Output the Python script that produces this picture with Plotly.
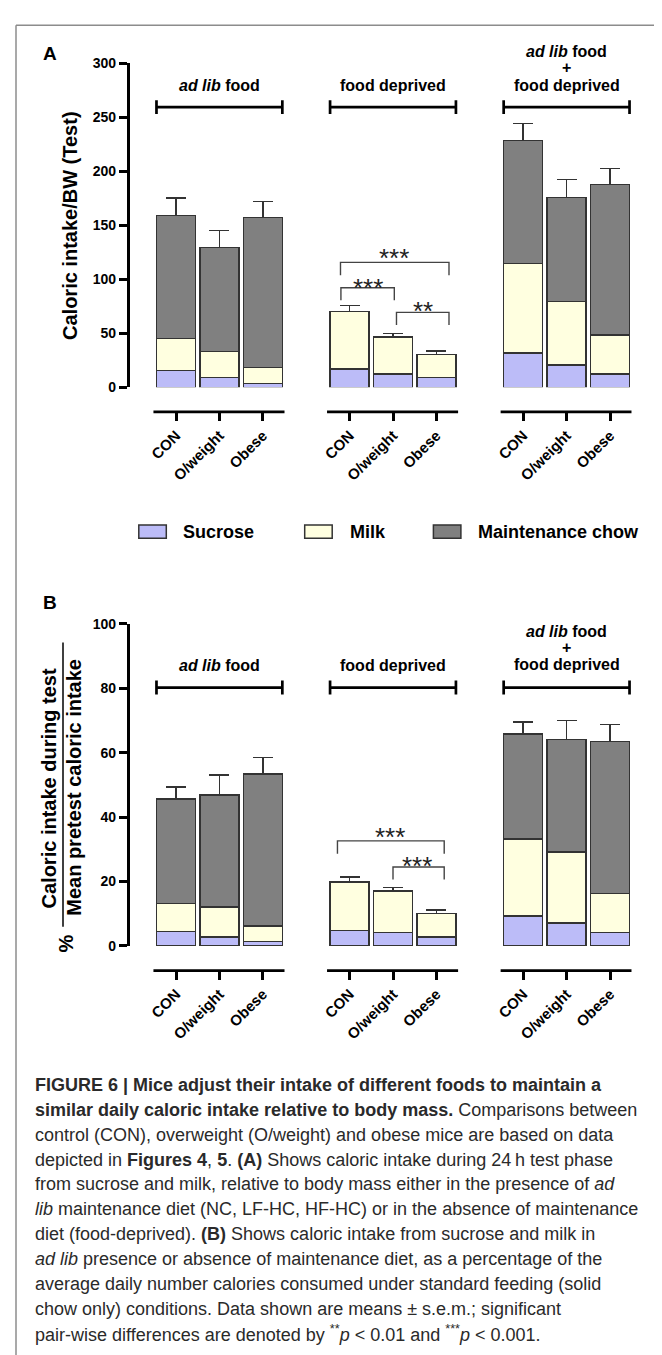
import plotly.graph_objects as go

# ---------------- data ----------------
groups = ["ad lib food", "food deprived", "ad lib food + food deprived"]
categories = ["CON", "O/weight", "Obese"]
series_names = ["Sucrose", "Milk", "Maintenance chow"]

# Panel A: caloric intake / BW (segment heights), order: group x category
sucrose_A = [15.3, 8.9, 3.7, 17.1, 12.2, 8.9, 31.7, 20.5, 12.3]
sucrose_A_err = [1.5, 1.5, 0.9, 1.2, 1.5, 0.9, 2.5, 3.0, 2.1]
milk_A = [29.9, 24.4, 14.6, 52.8, 34.5, 21.3, 83.0, 59.1, 36.2]
milk_A_err = [3.3, 1.8, 1.6, 6.0, 3.1, 3.4, 8.3, 4.0, 4.0]
chow_A = [114.0, 96.1, 138.7, None, None, None, 113.7, 96.1, 139.4]
chow_A_err = [15.9, 15.8, 15.0, None, None, None, 15.9, 16.4, 14.7]

# Panel B: % of mean pretest caloric intake
sucrose_B = [4.4, 2.8, 1.4, 4.8, 4.2, 2.8, 9.2, 7.1, 4.2]
sucrose_B_err = [0.6, 0.6, 0.2, 0.4, 0.6, 0.3, 0.9, 1.0, 0.6]
milk_B = [8.7, 9.2, 4.7, 15.1, 12.8, 7.3, 24.0, 22.0, 12.1]
milk_B_err = [1.0, 0.8, 0.6, 1.5, 1.1, 1.0, 1.9, 2.0, 1.6]
chow_B = [32.5, 34.9, 47.2, None, None, None, 32.6, 34.9, 47.2]
chow_B_err = [3.7, 6.2, 5.1, None, None, None, 3.7, 6.0, 5.2]

yticks_A = [0, 50, 100, 150, 200, 250, 300]
yticks_B = [0, 20, 40, 60, 80, 100]

# significance brackets: (x_left, x_right, y_bar, y_leg_bottom_left, y_leg_bottom_right, label, x_label, y_label)
sig_A = [
    (3.79, 6.29, 115.6, 103.7, 103.7, "***", 5.03, 125.7),
    (3.80, 5.03, 92.1, 80.5, 80.5, "***", 4.42, 98.8),
    (5.08, 6.29, 69.3, 57.6, 57.6, "**", 5.68, 77.5),
]
sig_B = [
    (3.72, 6.18, 32.6, 28.6, 28.6, "***", 4.93, 36.0),
    (5.00, 6.18, 24.5, 20.6, 20.6, "***", 5.55, 27.0),
]

caption_lines = [
    "<b>FIGURE 6 | Mice adjust their intake of different foods to maintain a</b>",
    "<b>similar daily caloric intake relative to body mass.</b> Comparisons between",
    "control (CON), overweight (O/weight) and obese mice are based on data",
    "depicted in <b>Figures 4</b>, <b>5</b>. <b>(A)</b> Shows caloric intake during 24\u2009h test phase",
    "from sucrose and milk, relative to body mass either in the presence of <i>ad</i>",
    "<i>lib</i> maintenance diet (NC, LF-HC, HF-HC) or in the absence of maintenance",
    "diet (food-deprived). <b>(B)</b> Shows caloric intake from sucrose and milk in",
    "<i>ad lib</i> presence or absence of maintenance diet, as a percentage of the",
    "average daily number calories consumed under standard feeding (solid",
    "chow only) conditions. Data shown are means \u00b1 s.e.m.; significant",
    "pair-wise differences are denoted by <sup>**</sup><i>p</i> &lt; 0.01 and <sup>***</sup><i>p</i> &lt; 0.001.",
]

# ---------------- layout helpers ----------------
W, H = 662, 1355
FONT = "Liberation Sans, Arial, sans-serif"
colors = ["#bcbcf8", "#ffffe0", "#808080"]
EDGE = "#333333"


def pxx(x):
    return x / W


def pyy(y):
    return 1 - y / H


xpos = [g * 4 + c for g in range(len(groups)) for c in range(len(categories))]
ticktext = [categories[c] for g in range(len(groups)) for c in range(len(categories))]

fig = go.Figure()

panels = [
    dict(xa="x", ya="y", data=[(sucrose_A, sucrose_A_err), (milk_A, milk_A_err), (chow_A, chow_A_err)]),
    dict(xa="x2", ya="y2", data=[(sucrose_B, sucrose_B_err), (milk_B, milk_B_err), (chow_B, chow_B_err)]),
]

for p in panels:
    for i, (vals, errs) in enumerate(p["data"]):
        fig.add_trace(go.Bar(
            x=xpos, y=vals, width=0.9, name=series_names[i],
            marker=dict(color=colors[i], line=dict(color=EDGE, width=1.5)),
            error_y=dict(type="data", symmetric=False, array=errs,
                         arrayminus=[0] * len(errs), color=EDGE, thickness=1.5, width=10),
            xaxis=p["xa"], yaxis=p["ya"], showlegend=False,
        ))

# plot geometry (pixels)
x_left_px, x_right_px = 121.7, 623.7
xr = [-1.067, 10.5]
A_top, A_bot = 47.7, 375.7
B_top, B_bot = 615.0, 941.0
axis_off = 25.0

axis_common = dict(showgrid=False, zeroline=False)
yax_common = dict(showline=True, linewidth=2.5, linecolor="black", ticks="outside",
                  ticklen=8, tickwidth=2.5, tickcolor="black",
                  tickfont=dict(family=FONT, size=14, color="black", weight="bold"), **axis_common)
xax_common = dict(range=xr, domain=[pxx(x_left_px), pxx(x_right_px)], anchor="free",
                  showline=False, ticks="outside", ticklen=8, tickwidth=2.5, tickcolor="black",
                  tickvals=xpos, ticktext=ticktext, tickangle=-45,
                  tickfont=dict(family=FONT, size=15, color="black", weight="bold"), **axis_common)

fig.update_layout(
    width=W, height=H, margin=dict(l=0, r=0, t=0, b=0),
    paper_bgcolor="white", plot_bgcolor="white", barmode="stack", showlegend=False,
    xaxis=dict(position=pyy(A_bot + axis_off), **xax_common),
    xaxis2=dict(position=pyy(B_bot + axis_off), **xax_common),
    yaxis=dict(domain=[pyy(A_bot), pyy(A_top)], range=[0, 300], tickvals=yticks_A,
               anchor="x", **yax_common),
    yaxis2=dict(domain=[pyy(B_bot), pyy(B_top)], range=[0, 100], tickvals=yticks_B,
                anchor="x2", **yax_common),
)

shapes = []
annotations = []


def ann(text, x, y, xref="paper", yref="paper", size=14, bold=False, italic=False,
        xanchor="center", yanchor="middle", angle=0, color="black", yshift=0):
    annotations.append(dict(
        text=text, x=x, y=y, xref=xref, yref=yref, showarrow=False,
        xanchor=xanchor, yanchor=yanchor, textangle=angle, yshift=yshift,
        font=dict(family=FONT, size=size, color=color,
                  weight="bold" if bold else "normal", style="italic" if italic else "normal"),
    ))


# figure border
shapes.append(dict(type="line", xref="paper", yref="paper", x0=pxx(8), x1=1.0,
                   y0=pyy(9.3), y1=pyy(9.3), line=dict(color="#8c8c8c", width=1.5)))
shapes.append(dict(type="line", xref="paper", yref="paper", x0=pxx(8), x1=pxx(8),
                   y0=0, y1=pyy(9.3), line=dict(color="#8c8c8c", width=1.5)))

group_label_html = ["<i>ad lib</i> food", "food deprived", None]
x_unit_px = (x_right_px - x_left_px) / (xr[1] - xr[0])


def data_x_to_paper(xv):
    return pxx(x_left_px + (xv - xr[0]) * x_unit_px)


for (xa, ya, y_bracket, tick_half, y_lab, y_lines_px, bot) in [
    ("x", "y", 259.3, 6.4, 279.7, [35.7, 51.7, 70.0], A_bot),
    ("x2", "y2", 80.2, 2.2, 86.9, [623.3, 639.3, 656.7], B_bot),
]:
    for g in range(len(groups)):
        x0, x1 = g * 4 - 0.45, g * 4 + 2.45
        # top bracket
        shapes.append(dict(type="line", xref=xa, yref=ya, x0=x0, x1=x1, y0=y_bracket, y1=y_bracket,
                           line=dict(color="black", width=2.7)))
        for xe in (x0, x1):
            shapes.append(dict(type="line", xref=xa, yref=ya, x0=xe, x1=xe,
                               y0=y_bracket - tick_half, y1=y_bracket + tick_half,
                               line=dict(color="black", width=2.7)))
        # bottom axis segment
        yb = pyy(bot + axis_off)
        shapes.append(dict(type="line", xref=xa, yref="paper", x0=g * 4 - 0.52, x1=g * 4 + 2.5,
                           y0=yb, y1=yb, line=dict(color="black", width=2.7)))
        xc = g * 4 + 1
        if group_label_html[g] is not None:
            ann(group_label_html[g], xc, y_lab, xref=xa, yref=ya, size=16, bold=True)
        else:
            xp = data_x_to_paper(xc)
            ann("<i>ad lib</i> food", xp, pyy(y_lines_px[0]), size=16, bold=True)
            ann("+", xp, pyy(y_lines_px[1]), size=16, bold=True)
            ann("food deprived", xp, pyy(y_lines_px[2]), size=16, bold=True)

# significance brackets
for (xa, ya, sigs) in [("x", "y", sig_A), ("x2", "y2", sig_B)]:
    for (xl, xrr, yb, yll, ylr, lab, xlab, ylab) in sigs:
        shapes.append(dict(type="path", xref=xa, yref=ya,
                           path=f"M {xl} {yll} L {xl} {yb} L {xrr} {yb} L {xrr} {ylr}",
                           line=dict(color="#444444", width=1.4)))
        ann(lab, xlab, ylab, xref=xa, yref=ya, size=26, color="#222222", yshift=-7)

# panel letters
ann("A", pxx(42), pyy(38.3), size=19, bold=True)
ann("B", pxx(42), pyy(594), size=19, bold=True)

# y titles
ann("Caloric intake/BW (Test)", pxx(62), pyy(212.5), size=20, bold=True, angle=-90)
ann("Caloric intake during test", pxx(41), pyy(781.7), size=20, bold=True, angle=-90)
ann("Mean pretest caloric intake", pxx(66), pyy(781), size=20, bold=True, angle=-90)
shapes.append(dict(type="line", xref="paper", yref="paper", x0=pxx(55), x1=pxx(55),
                   y0=pyy(921.7), y1=pyy(634), line=dict(color="black", width=1.5)))
ann("%", pxx(57.5), pyy(939), size=20, bold=True, angle=-90)

# legend
leg_y = 521.7
leg_items = [(130.8, 173.0), (296.7, 339.7), (425.4, 467.6)]
for i, (bx, tx) in enumerate(leg_items):
    shapes.append(dict(type="rect", xref="paper", yref="paper", x0=pxx(bx), x1=pxx(bx + 27.5),
                       y0=pyy(leg_y + 6.7), y1=pyy(leg_y - 6.7),
                       fillcolor=colors[i], line=dict(color=EDGE, width=1.5)))
    ann(series_names[i], pxx(tx), pyy(leg_y), size=18, bold=True, xanchor="left")

# caption
for i, line in enumerate(caption_lines):
    ann(line, pxx(25), pyy(1081.7 + i * 25.17), size=18, xanchor="left", color="#2a2a2a")

fig.update_layout(shapes=shapes, annotations=annotations)
fig.write_html("out.html")
